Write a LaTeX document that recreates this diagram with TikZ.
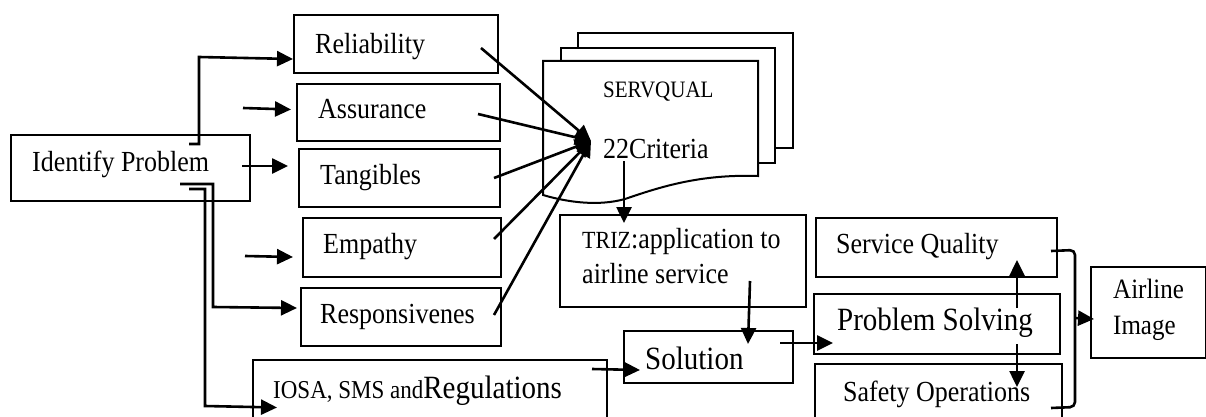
\documentclass[tikz,border=0pt]{standalone}
\usepackage{fontspec}
\setmainfont{Liberation Serif}
\usetikzlibrary{arrows.meta,calc}
\newcommand\boxnode[5]{\node[box, minimum width={#4-#2}, minimum height={#5-#3}, anchor=north west] (#1) at (#2,#3) {};}
\newcommand\vs[1]{\scalebox{1}[1.12]{#1}}
\begin{document}
\begin{tikzpicture}[x=1pt,y=-1pt,
  box/.style={draw,line width=2pt,inner sep=0pt,fill=white},
  txt/.style={inner sep=0pt,anchor=base west,font=\fontsize{26}{35}\selectfont},
  arr/.style={line width=2.6pt,-{Triangle[length=16pt,width=15pt]}},
  ln/.style={line width=2.6pt}]
\useasboundingbox (0,0) rectangle (1206,417);
\fill[white] (0,0) rectangle (1206,417);
\clip (0,0) rectangle (1206,417);

% boxes
\boxnode{idp}{10}{134}{249}{200}
\boxnode{rel}{293}{14}{497}{72}
\boxnode{ass}{296}{83}{499}{140}
\boxnode{tan}{298}{148}{499}{206}
\boxnode{emp}{302}{217}{500}{276}
\boxnode{res}{300}{287}{500}{345}
\boxnode{iosa}{252}{359}{606}{418}
\boxnode{sol}{623}{330}{792}{382}
\boxnode{triz}{559}{214}{805}{306}
\boxnode{sq}{815}{217}{1056}{276}
\boxnode{ps}{813}{293}{1059}{353}
\boxnode{so}{814}{363}{1061}{418}
\boxnode{ai}{1090}{266}{1205}{357}

% SERVQUAL document stack
\boxnode{doc3}{577}{32}{792}{147}
\boxnode{doc2}{560}{47}{774}{162}
\draw[box] (543,61) -- (758,61) -- (758,176)
  .. controls (700,174) and (660,187) .. (625,199)
  .. controls (600,206) and (570,203) .. (543,195) -- cycle;

% texts
\node[txt] (idpt) at (32,171) {\vs{Identify Problem}};
\node[txt] (relt) at (315,54) {\vs{Reliability}};
\node[txt] (asst) at (318,118) {\vs{Assurance}};
\node[txt] (tant) at (320,184) {\vs{Tangibles}};
\node[txt] (empt) at (323,253) {\vs{Empathy}};
\node[txt] (rest) at (320,323) {\vs{Responsivenes}};
\node[txt] (iosat) at (273,398) {\vs{{\fontsize{23}{30}\selectfont IOSA, SMS and}{\fontsize{29}{35}\selectfont Regulations}}};
\node[txt,font=\fontsize{29}{35}\selectfont] (solt) at (645,369) {\vs{Solution}};
\node[txt,align=left] (trizt) at (582,283) {\vs{{\fontsize{22}{35}\selectfont TRIZ}:application to}\\\vs{airline service}};
\node[txt] (sqt) at (836,253) {\vs{Service Quality}};
\node[txt,font=\fontsize{29}{35}\selectfont] (pst) at (837,330) {\vs{Problem Solving}};
\node[txt] (sot) at (843,401) {\vs{Safety Operations}};
\node[txt,align=left,font=\fontsize{25}{36}\selectfont] (ait) at (1113,334) {\vs{Airline}\\\vs{Image}};
\node[txt,font=\fontsize{21}{26}\selectfont] (servq) at (603,98) {\vs{SERVQUAL}};
\node[txt] (crit) at (603,158) {\vs{22Criteria}};

% connectors
\coordinate (conv) at (591,141);
\coordinate (assin) at (243,108);
\coordinate (empin) at (245,256);

\draw[arr] ($(idp.north west)+(179,10)$) -| (199,57) -- ($(rel.south west)+(0,-15)$);
\draw[arr] (assin) -- ($(ass.west)+(-5,-3)$);
\draw[arr] ($(idp.east)+(-9,-2)$) -- ($(tan.west)+(-10,-12)$);
\draw[arr] (empin) -- ($(emp.west)+(-9,9.5)$);
\draw[arr] ($(idp.south west)+(170,-18)$) -| (213,307) -- ($(res.west)+(-3,-9)$);
\draw[arr] ($(idp.south west)+(179,-13)$) -| (205,406) -- ($(iosa.west)+(25,18)$);

\draw[arr] ($(rel.east)+(-18,4)$) -- (conv);
\draw[arr] ($(ass.east)+(-23,1.5)$) -- (conv);
\draw[arr] ($(tan.east)+(-7,0)$) -- (conv);
\draw[arr] ($(emp.east)+(-8,-8.5)$) -- (conv);
\draw[arr] ($(res.east)+(-8,-2)$) -- (conv);

\draw[arr] ($(triz.north west)+(65,-53)$) -- ($(triz.north west)+(65,9)$);
\draw[arr] ($(triz.south east)+(-57,-27)$) -- ($(sol.north west)+(125,14)$);
\draw[arr] ($(iosa.north east)+(-16,10)$) -- ($(sol.west)+(17,13)$);
\draw[arr] ($(sol.east)+(-14,-14)$) -- ($(ps.west)+(20,19)$);
\draw[arr] ($(ps.north west)+(204,15)$) -- ($(sq.south west)+(202,-18)$);
\draw[arr] ($(ps.south west)+(204,-11)$) -- ($(so.north west)+(203,24)$);

\draw[ln,rounded corners=5pt] ($(sq.east)+(-7,3.5)$) -- (1075,250) -- (1075,407) -- ($(so.north east)+(-12,45)$);
\coordinate (brk) at (1075,318);
\draw[arr] (brk) -- ($(ai.west)+(4,6.5)$);
\end{tikzpicture}
\end{document}
